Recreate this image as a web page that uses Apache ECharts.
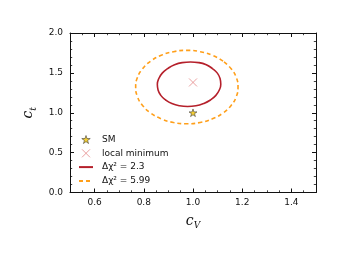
<!DOCTYPE html>
<html><head><meta charset="utf-8">
<script src="https://cdn.jsdelivr.net/npm/echarts@6/dist/echarts.min.js"></script>
<style>html,body{margin:0;padding:0;background:#fff}#c{width:345px;height:258px}</style>
</head><body><div id="c"></div>
<script>
// Data
const smPoint = [[1.0, 1.0]];
const localMin = [[1.0, 1.38]];
const contour23 = [
  [1.079,1.554],[1.054,1.603],[1.023,1.629],[0.990,1.636],[0.956,1.629],[0.925,1.603],
  [0.897,1.554],[0.875,1.497],[0.861,1.429],[0.855,1.357],[0.858,1.285],[0.869,1.218],
  [0.889,1.160],[0.914,1.115],[0.945,1.087],[0.978,1.078],[1.012,1.087],[1.043,1.115],
  [1.071,1.160],[1.093,1.218],[1.107,1.285],[1.113,1.357],[1.110,1.429],[1.099,1.497],
  [1.079,1.554],[1.054,1.603],[1.023,1.629]
];
const contour599 = [
  [1.122,1.647],[1.079,1.720],[1.029,1.766],[0.975,1.782],[0.921,1.766],[0.871,1.720],
  [0.828,1.647],[0.795,1.552],[0.774,1.441],[0.767,1.322],[0.774,1.203],[0.795,1.092],
  [0.828,0.997],[0.871,0.924],[0.921,0.878],[0.975,0.862],[1.029,0.878],[1.079,0.924],
  [1.122,0.997],[1.155,1.092],[1.176,1.203],[1.183,1.322],[1.176,1.441],[1.155,1.552],
  [1.122,1.647]
];
const seriesNames = ['SM', 'local minimum', 'Δχ² = 2.3', 'Δχ² = 5.99'];
const xRange = [0.5, 1.5];
const yRange = [0, 2];

const spine = {show: true, lineStyle: {color: '#111', width: 1}};
const majorTick = {show: true, inside: true, length: 4, lineStyle: {color: '#111', width: 1}};
const minorTickStyle = {show: true, inside: true, length: 2.2, lineStyle: {color: '#111', width: 0.8}};
const labelFont = {fontFamily: 'DejaVu Sans', fontSize: 9, color: '#111'};
const starPath = 'path://M50,0 L61,35 L98,35 L68,57 L79,91 L50,70 L21,91 L32,57 L2,35 L39,35 Z';
const xPath = 'path://M0,0L10,10M10,0L0,10';
const starStyle = {color: '#f3c300', borderColor: '#333', borderWidth: 0.7};
const xStyle = {color: 'rgba(0,0,0,0)', borderColor: '#e58a8a', borderWidth: 1};

const chart = echarts.init(document.getElementById('c'), null, {renderer: 'canvas'});
chart.setOption({
  animation: false,
  backgroundColor: '#fff',
  grid: {left: 70, right: 29, top: 33, bottom: 65.5, containLabel: false},
  legend: {
    orient: 'vertical', left: 73, top: 130, itemWidth: 14, itemHeight: 8, itemGap: 4.8,
    data: [
      {name: seriesNames[0], itemStyle: starStyle},
      {name: seriesNames[1], itemStyle: xStyle},
      {name: seriesNames[2], itemStyle: {opacity: 0}},
      {name: seriesNames[3], itemStyle: {opacity: 0}}
    ],
    textStyle: {fontFamily: 'DejaVu Sans', fontSize: 9, color: '#111', padding: [0, 0, 0, 4]}
  },
  xAxis: [
    {type: 'value', position: 'bottom', min: xRange[0], max: xRange[1], splitNumber: 5,
     axisLine: spine, axisTick: majorTick, splitLine: {show: false},
     axisLabel: Object.assign({margin: 6, showMinLabel: false, showMaxLabel: false,
       formatter: v => v.toFixed(1)}, labelFont),
     name: '{c|c}{s|V}', nameLocation: 'middle', nameGap: 20,
     nameTextStyle: {rich: {
       c: {fontFamily: 'DejaVu Serif', fontStyle: 'italic', fontSize: 14, color: '#111'},
       s: {fontFamily: 'DejaVu Serif', fontStyle: 'italic', fontSize: 9, color: '#111', padding: [9, 0, 0, 0]}
     }}},
    {type: 'value', position: 'bottom', min: xRange[0], max: xRange[1], interval: 0.05,
     axisLine: {show: false}, axisTick: minorTickStyle, axisLabel: {show: false}, splitLine: {show: false}},
    {type: 'value', position: 'top', min: xRange[0], max: xRange[1], splitNumber: 5,
     axisLine: spine, axisTick: majorTick, axisLabel: {show: false}, splitLine: {show: false}},
    {type: 'value', position: 'top', min: xRange[0], max: xRange[1], interval: 0.05,
     axisLine: {show: false}, axisTick: minorTickStyle, axisLabel: {show: false}, splitLine: {show: false}}
  ],
  yAxis: [
    {type: 'value', position: 'left', min: yRange[0], max: yRange[1], interval: 0.5,
     axisLine: spine, axisTick: majorTick, splitLine: {show: false},
     minorTick: {show: true, splitNumber: 5, length: 2.2, lineStyle: {color: '#111', width: 0.8}},
     axisLabel: Object.assign({margin: 7, formatter: v => v.toFixed(1)}, labelFont),
     name: '{c|c}{s|t}', nameLocation: 'middle', nameGap: 29, nameRotate: 90,
     nameTextStyle: {rich: {
       c: {fontFamily: 'DejaVu Serif', fontStyle: 'italic', fontSize: 14, color: '#111'},
       s: {fontFamily: 'DejaVu Serif', fontStyle: 'italic', fontSize: 9, color: '#111', padding: [9, 0, 0, 0]}
     }}},
    {type: 'value', position: 'right', min: yRange[0], max: yRange[1], interval: 0.5,
     axisLine: spine, axisTick: majorTick, axisLabel: {show: false}, splitLine: {show: false},
     minorTick: {show: true, splitNumber: 5, length: 2.2, lineStyle: {color: '#111', width: 0.8}}}
  ],
  series: [
    {name: seriesNames[0], type: 'scatter', data: smPoint, symbol: starPath, symbolSize: 8,
     symbolKeepAspect: true, z: 5, itemStyle: starStyle},
    {name: seriesNames[1], type: 'scatter', data: localMin, symbol: xPath, symbolSize: 8,
     z: 5, itemStyle: xStyle},
    {name: seriesNames[2], type: 'line', data: contour23, symbol: 'none', smooth: 0.5,
     lineStyle: {color: '#b5202b', width: 1.6}, itemStyle: {color: '#b5202b'}},
    {name: seriesNames[3], type: 'line', data: contour599, symbol: 'none', smooth: 0.5,
     lineStyle: {color: '#ff9f1a', width: 1.6, type: [4, 3]}, itemStyle: {color: '#ff9f1a'}}
  ]
});
</script></body></html>
